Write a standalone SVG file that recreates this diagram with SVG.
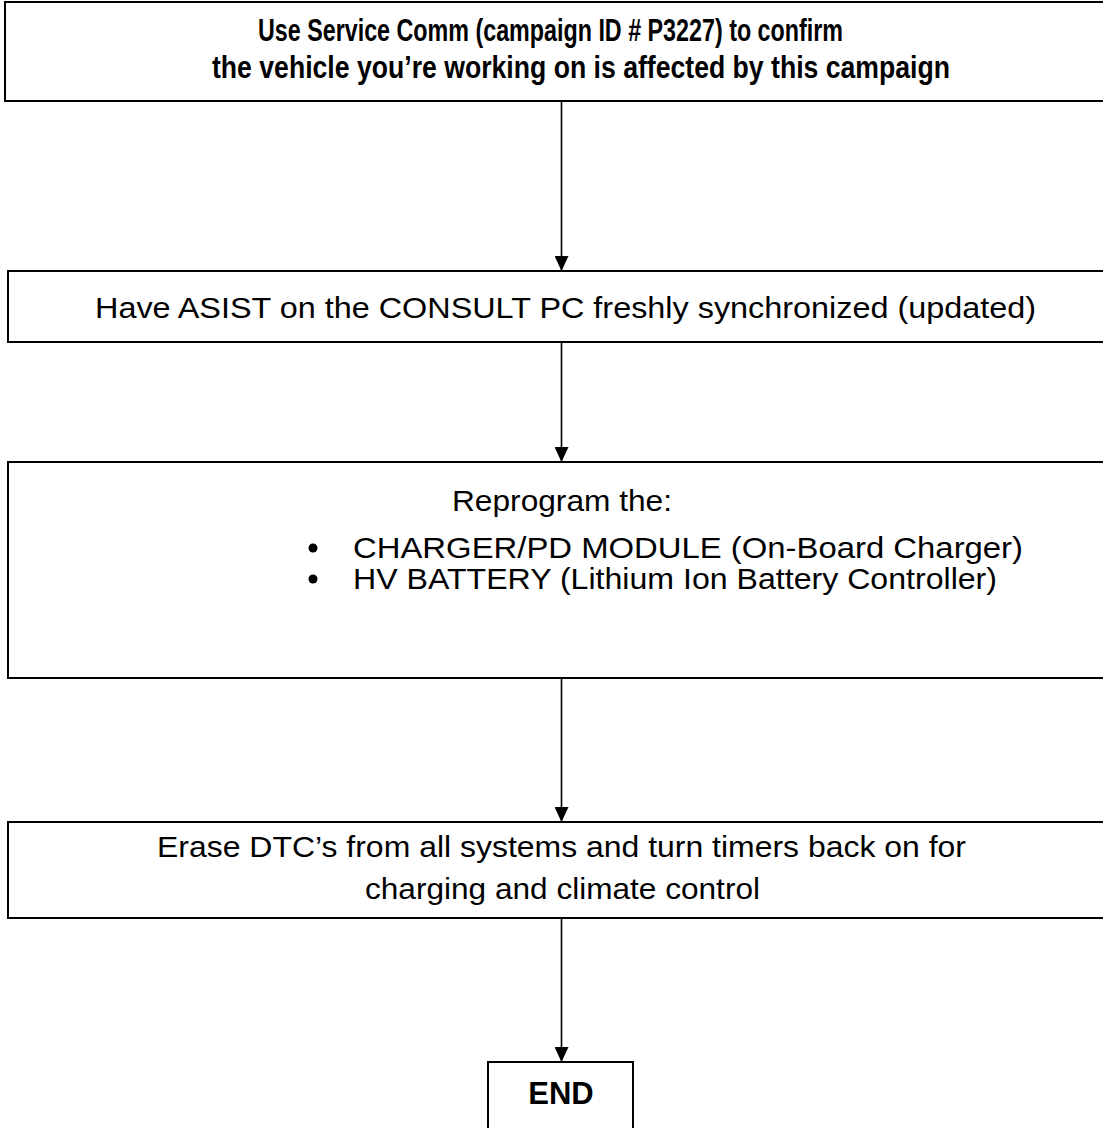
<svg xmlns="http://www.w3.org/2000/svg" width="1103" height="1128" viewBox="0 0 1103 1128">
<defs>
<style>
.box{fill:#fff;stroke:#000;stroke-width:2}
.t{font-family:"Liberation Sans",Arial,sans-serif;fill:#000;font-size:29px}
.b{font-weight:bold;font-size:31px}
.c{text-anchor:middle}
.conn{stroke:#000;stroke-width:1.6;fill:none}
</style>
<marker id="ah" viewBox="0 0 15 14" refX="15" refY="7" markerWidth="15" markerHeight="14" markerUnits="userSpaceOnUse" orient="auto">
<path d="M0,0 L15,7 L0,14 Z" fill="#000"/>
</marker>
</defs>
<rect width="1103" height="1128" fill="#fff"/>
<g id="connectors">
<line class="conn" x1="561.5" y1="101" x2="561.5" y2="271" marker-end="url(#ah)"/>
<line class="conn" x1="561.5" y1="342" x2="561.5" y2="462" marker-end="url(#ah)"/>
<line class="conn" x1="561.5" y1="678" x2="561.5" y2="822" marker-end="url(#ah)"/>
<line class="conn" x1="561.5" y1="918" x2="561.5" y2="1062" marker-end="url(#ah)"/>
</g>
<g id="node1">
<rect class="box" x="5" y="2" width="1110" height="99"/>
<text class="t b" x="258" y="41" textLength="585" lengthAdjust="spacingAndGlyphs">Use Service Comm (campaign ID # P3227) to confirm</text>
<text class="t b" x="212" y="78" textLength="738" lengthAdjust="spacingAndGlyphs">the vehicle you’re working on is affected by this campaign</text>
</g>
<g id="node2">
<rect class="box" x="8" y="271" width="1110" height="71"/>
<text class="t" x="95" y="318" textLength="941" lengthAdjust="spacingAndGlyphs">Have ASIST on the CONSULT PC freshly synchronized (updated)</text>
</g>
<g id="node3">
<rect class="box" x="8" y="462" width="1110" height="216"/>
<text class="t" x="452" y="511" textLength="220" lengthAdjust="spacingAndGlyphs">Reprogram the:</text>
<circle cx="313" cy="548" r="4.5"/>
<circle cx="313" cy="579" r="4.5"/>
<text class="t" x="353" y="558" textLength="670" lengthAdjust="spacingAndGlyphs">CHARGER/PD MODULE (On-Board Charger)</text>
<text class="t" x="353" y="589" textLength="644" lengthAdjust="spacingAndGlyphs">HV BATTERY (Lithium Ion Battery Controller)</text>
</g>
<g id="node4">
<rect class="box" x="8" y="822" width="1110" height="96"/>
<text class="t" x="157" y="857" textLength="809" lengthAdjust="spacingAndGlyphs" font-size="31">Erase DTC’s from all systems and turn timers back on for</text>
<text class="t" x="365" y="899" textLength="395" lengthAdjust="spacingAndGlyphs" font-size="31">charging and climate control</text>
</g>
<g id="node5">
<rect class="box" x="488" y="1062" width="145" height="90"/>
<text class="t b c" x="561" y="1104" font-size="30">END</text>
</g>
</svg>
